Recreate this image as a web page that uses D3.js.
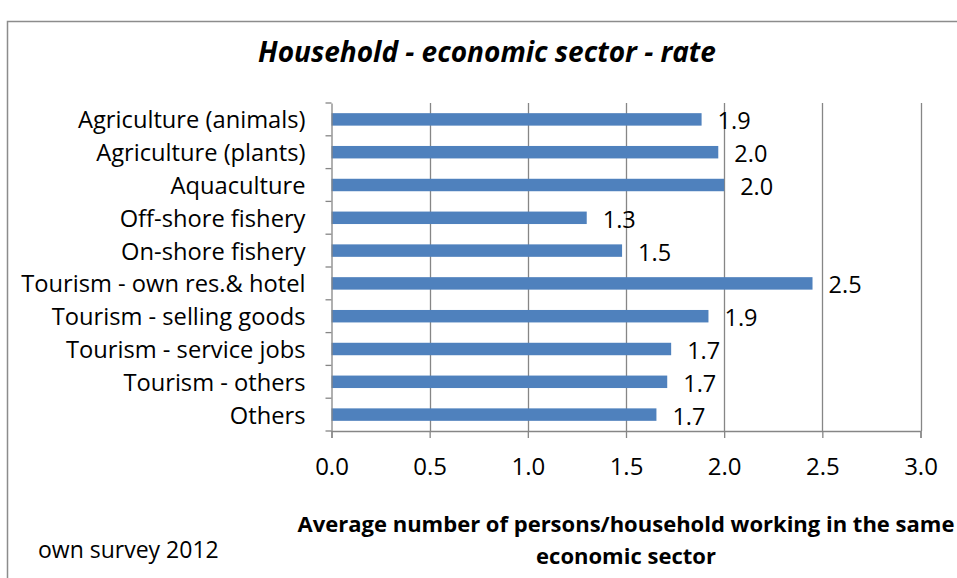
<!DOCTYPE html>
<html>
<head>
<meta charset="utf-8">
<script src="https://cdn.jsdelivr.net/npm/d3@7"></script>
<style>
  html, body { margin: 0; padding: 0; background: #fff; }
  svg { display: block; font-family: "Open Sans", sans-serif; }
</style>
</head>
<body>
<svg id="chart" width="957" height="578"></svg>
<script>
const categories = [
  "Agriculture (animals)",
  "Agriculture (plants)",
  "Aquaculture",
  "Off-shore fishery",
  "On-shore fishery",
  "Tourism - own res.& hotel",
  "Tourism - selling goods",
  "Tourism - service jobs",
  "Tourism - others",
  "Others"
];
const values = [1.885, 1.97, 2.0, 1.30, 1.48, 2.45, 1.92, 1.73, 1.71, 1.655];
const valueLabels = ["1.9", "2.0", "2.0", "1.3", "1.5", "2.5", "1.9", "1.7", "1.7", "1.7"];
const xTicks = [0, 0.5, 1.0, 1.5, 2.0, 2.5, 3.0];
const titleText = "Household - economic sector - rate";
const axisTitleLines = ["Average number of persons/household working in the same", "economic sector"];
const sourceText = "own survey 2012";

const svg = d3.select("#chart");
const pLeft = 331.5, pRight = 920.5, pTop = 103, pBottom = 431;

// frame
svg.append("rect")
  .attr("x", 7.5).attr("y", 21.5)
  .attr("width", 1000).attr("height", 700)
  .attr("fill", "none").attr("stroke", "#8c8c8c").attr("stroke-width", 1.5);

const x = d3.scaleLinear().domain([0, 3]).range([pLeft, pRight]);
const y = d3.scaleBand().domain(categories).range([pTop, pBottom]).paddingInner(0.62).paddingOuter(0.31);
const yb = d3.scaleBand().domain(categories).range([pTop, pBottom]);

// gridlines
svg.append("g").selectAll("line").data(xTicks.slice(1)).join("line")
  .attr("x1", d => Math.round(x(d)) + 0.5).attr("x2", d => Math.round(x(d)) + 0.5)
  .attr("y1", pTop).attr("y2", pBottom)
  .attr("stroke", "#868686").attr("stroke-width", 1.3);

// bars
svg.append("g").selectAll("rect").data(categories).join("rect")
  .attr("x", x(0))
  .attr("y", d => y(d))
  .attr("width", (d, i) => x(values[i]) - x(0))
  .attr("height", y.bandwidth())
  .attr("fill", "#4f81bd");

// value labels
svg.append("g").selectAll("text").data(categories).join("text")
  .attr("x", (d, i) => x(values[i]) + 16)
  .attr("y", d => yb(d) + yb.bandwidth() / 2 + 10)
  .attr("font-size", 23.5)
  .attr("fill", "#000")
  .text((d, i) => valueLabels[i]);

// y axis
const yAxis = d3.axisLeft(yb).tickSize(0).tickPadding(26);
const gy = svg.append("g").attr("transform", `translate(${pLeft},0)`).call(yAxis);
gy.select(".domain").attr("stroke", "#868686").attr("stroke-width", 1.3);
gy.selectAll(".tick text").attr("font-size", 23.7).attr("font-family", "Open Sans").attr("fill", "#000").attr("dy", "0.38em");
// category boundary ticks
const bounds = categories.map(c => yb(c)).concat([pBottom]);
svg.append("g").selectAll("line").data(bounds).join("line")
  .attr("x1", pLeft - 6).attr("x2", pLeft)
  .attr("y1", d => d).attr("y2", d => d)
  .attr("stroke", "#868686").attr("stroke-width", 1.3);

// x axis
const xAxis = d3.axisBottom(x).tickValues(xTicks).tickFormat(d3.format(".1f")).tickSize(7).tickPadding(20);
const gx = svg.append("g").attr("transform", `translate(0,${pBottom})`).call(xAxis);
gx.select(".domain").attr("stroke", "#868686").attr("stroke-width", 1.3);
gx.selectAll(".tick line").attr("stroke", "#868686").attr("stroke-width", 1.3);
gx.selectAll(".tick text").attr("font-size", 24).attr("font-family", "Open Sans").attr("fill", "#000");

// title
svg.append("text")
  .attr("x", 487).attr("y", 62)
  .attr("text-anchor", "middle")
  .attr("font-size", 28).attr("font-weight", "bold").attr("font-style", "italic")
  .text(titleText);

// axis title
svg.append("g").selectAll("text").data(axisTitleLines).join("text")
  .attr("x", 626).attr("y", (d, i) => 532 + i * 32)
  .attr("text-anchor", "middle")
  .attr("font-size", 22).attr("font-weight", "bold")
  .text(d => d);

// source
svg.append("text")
  .attr("x", 38).attr("y", 558)
  .attr("font-size", 23)
  .text(sourceText);
</script>
</body>
</html>
